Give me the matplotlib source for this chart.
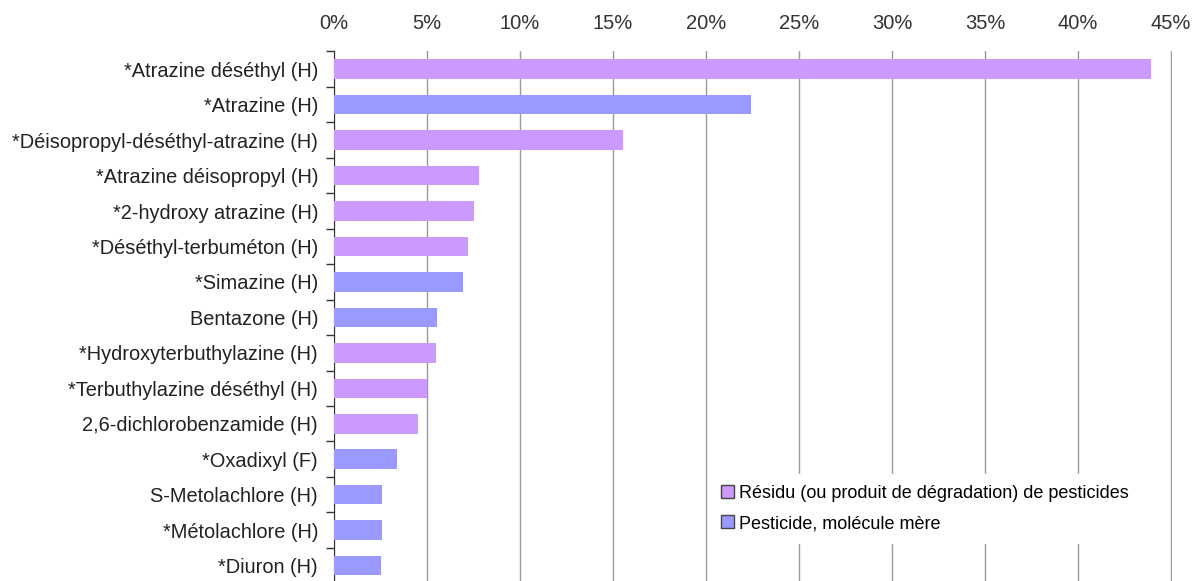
import matplotlib.pyplot as plt
import numpy as np
from matplotlib.patches import Patch

plt.rcParams['font.family'] = ['Liberation Sans', 'DejaVu Sans']

# substances, top to bottom
substances = [
    '*Atrazine déséthyl (H)',
    '*Atrazine (H)',
    '*Déisopropyl-déséthyl-atrazine (H)',
    '*Atrazine déisopropyl (H)',
    '*2-hydroxy atrazine (H)',
    '*Déséthyl-terbuméton (H)',
    '*Simazine (H)',
    'Bentazone (H)',
    '*Hydroxyterbuthylazine (H)',
    '*Terbuthylazine déséthyl (H)',
    '2,6-dichlorobenzamide (H)',
    '*Oxadixyl (F)',
    'S-Metolachlore (H)',
    '*Métolachlore (H)',
    '*Diuron (H)',
]
share = [43.9, 22.4, 15.55, 7.8, 7.5, 7.2, 6.95, 5.55, 5.5, 5.0, 4.52, 3.4, 2.58, 2.58, 2.53]
# True = residue / degradation product, False = parent molecule
is_residue = [True, False, True, True, True, True, False, False, True, True, True, False, False, False, False]

col_res = '#CC99FF'
col_mol = '#9999FF'

fig = plt.figure(figsize=(11.96, 5.81), dpi=100)
ax = fig.add_axes([0.2793, -0.004, 0.7007, 0.9154])

y = np.arange(len(substances))
colors = [col_res if r else col_mol for r in is_residue]
ax.barh(y, share, height=0.55, color=colors, zorder=3)

ax.set_ylim(len(substances) - 0.5, -0.5)
ax.set_xlim(0, 45.05)
ax.set_xticks(np.arange(0, 46, 5))
ax.set_xticklabels([f'{v}%' for v in range(0, 46, 5)])
ax.xaxis.tick_top()
ax.tick_params(axis='x', length=0, pad=13, labelsize=14.5, colors='#333333')
ax.grid(axis='x', color='#999999', linewidth=1, zorder=0)

ax.set_yticks(y)
ax.set_yticklabels(substances)
ax.set_yticks(np.arange(-0.5, len(substances), 1), minor=True)
ax.tick_params(axis='y', which='major', length=0, pad=11.5, labelsize=14.4, colors='#222222')
ax.tick_params(axis='y', which='minor', length=6, width=1, color='#333333')

for side in ['top', 'right', 'bottom']:
    ax.spines[side].set_visible(False)
ax.spines['left'].set_color('#333333')

handles = [Patch(facecolor=col_res, edgecolor='#444444', label='Résidu (ou produit de dégradation) de pesticides'),
           Patch(facecolor=col_mol, edgecolor='#444444', label='Pesticide, molécule mère')]
leg = ax.legend(handles=handles, loc='lower left', bbox_to_anchor=(0.4385, 0.059),
                frameon=True, fancybox=False, edgecolor='white', facecolor='white', framealpha=1,
                fontsize=13, handlelength=0.7, handleheight=0.7, handletextpad=0.3,
                labelspacing=0.75, borderpad=0.6)
leg.set_zorder(5)

fig.savefig('out.png', dpi=100)
